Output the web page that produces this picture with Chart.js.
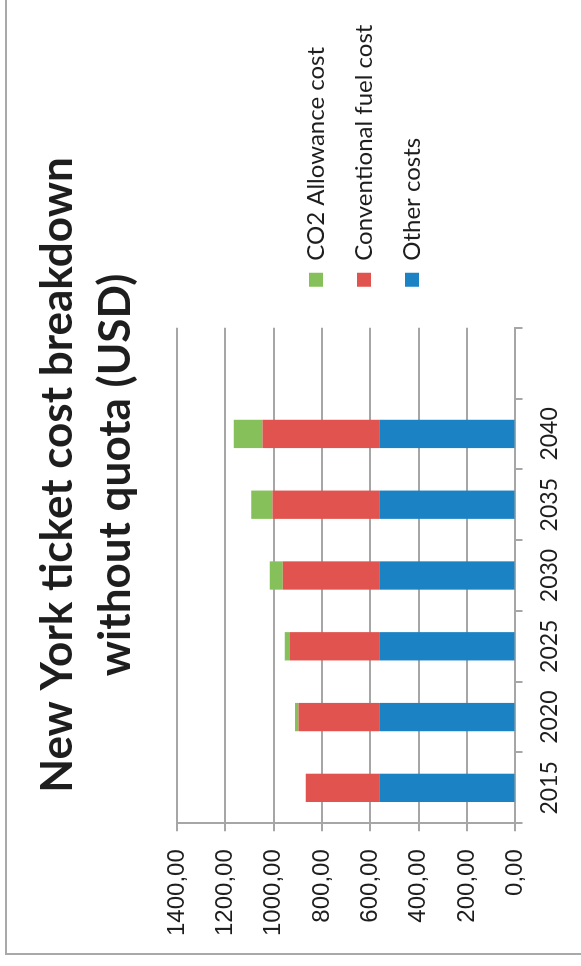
<!DOCTYPE html>
<html>
<head>
<meta charset="utf-8">
<title>New York ticket cost breakdown</title>
<script src="https://cdn.jsdelivr.net/npm/chart.js@4.4.1/dist/chart.umd.min.js"></script>
<style>
  html, body { margin: 0; padding: 0; background: #fff; overflow: hidden; }
  /* chart is laid out upright, then turned a quarter turn to the left */
  #wrap {
    position: absolute; left: 0; top: 0;
    width: 966px; height: 581px;
    transform-origin: 0 0;
    transform: translateY(966px) rotate(-90deg);
  }
  #frame {
    position: absolute; left: 11px; top: 5px; right: -30px; bottom: -30px;
    border-left: 2px solid #a9a9a9; border-top: 2px solid #a9a9a9;
  }
  #chart { position: absolute; left: 0; top: 0; }
</style>
</head>
<body>
<div id="wrap">
  <div id="frame"></div>
  <canvas id="chart" width="966" height="581"></canvas>
</div>
<script>
// data
const years = ["2015", "2020", "2025", "2030", "2035", "2040", ""];
const otherCosts = [563, 563, 563, 563, 563, 563];
const fuelCost = [304, 334, 370, 399, 442, 483];
const co2Cost = [0, 15, 21, 54, 88, 119];
const valueTicks = [0, 200, 400, 600, 800, 1000, 1200, 1400];

const gridColor = "#a6a6a6";
const textColor = "#1e1e1e";

// chart.js caps a side legend at a quarter of the width, so the legend text
// runs into the right padding; move legend + title where they belong
const placeBlocks = {
  id: "placeBlocks",
  afterLayout(chart) {
    const a = chart.chartArea;
    const lg = chart.legend;
    const h = lg.bottom - lg.top;
    lg.left = a.right + 17; lg.right = chart.width;
    lg.top = a.top + 103; lg.bottom = lg.top + h;
    lg.width = lg.right - lg.left;

    const t = chart.titleBlock;
    t.left = 16; t.right = chart.width;
  }
};

const ctx = document.getElementById("chart").getContext("2d");
new Chart(ctx, {
  type: "bar",
  data: {
    labels: years,
    datasets: [
      { label: "Other costs", data: otherCosts, backgroundColor: "#1b82c4", borderWidth: 0 },
      { label: "Conventional fuel cost", data: fuelCost, backgroundColor: "#e0534f", borderWidth: 0 },
      { label: "CO2 Allowance cost", data: co2Cost, backgroundColor: "#85c05a", borderWidth: 0 }
    ]
  },
  options: {
    responsive: false,
    devicePixelRatio: 1,
    animation: false,
    categoryPercentage: 1,
    barPercentage: 0.4,
    layout: { padding: { top: 29, left: 12, right: 119, bottom: 5 } },
    plugins: {
      title: {
        display: true,
        text: ["New York ticket cost breakdown", "without quota (USD)"],
        color: textColor,
        font: { family: "Lato", size: 44, weight: "bold", lineHeight: "58px" },
        padding: { top: 0, bottom: 32 }
      },
      legend: {
        position: "right",
        align: "start",
        reverse: true,
        labels: {
          color: textColor,
          font: { family: "Lato", size: 24 },
          boxWidth: 14,
          boxHeight: 14,
          padding: 24
        }
      },
      tooltip: { enabled: false }
    },
    scales: {
      x: {
        stacked: true,
        grid: {
          offset: true,
          drawOnChartArea: false,
          drawTicks: true,
          tickLength: 7,
          color: gridColor,
          lineWidth: 2
        },
        border: { color: gridColor, width: 2 },
        ticks: {
          color: textColor,
          font: { family: "Lato", size: 23 },
          padding: 13,
          maxRotation: 0
        }
      },
      y: {
        stacked: true,
        min: 0,
        max: 1400,
        afterBuildTicks(axis) {
          axis.ticks = valueTicks.map(v => ({ value: v }));
        },
        grid: { color: gridColor, lineWidth: 2, tickLength: 8 },
        border: { color: gridColor, width: 2 },
        ticks: {
          color: textColor,
          font: { family: "Liberation Sans", size: 24 },
          padding: 18,
          callback: function(value) {
            return value.toFixed(2).replace(".", ",");
          }
        }
      }
    }
  },
  plugins: [placeBlocks]
});
</script>
</body>
</html>
